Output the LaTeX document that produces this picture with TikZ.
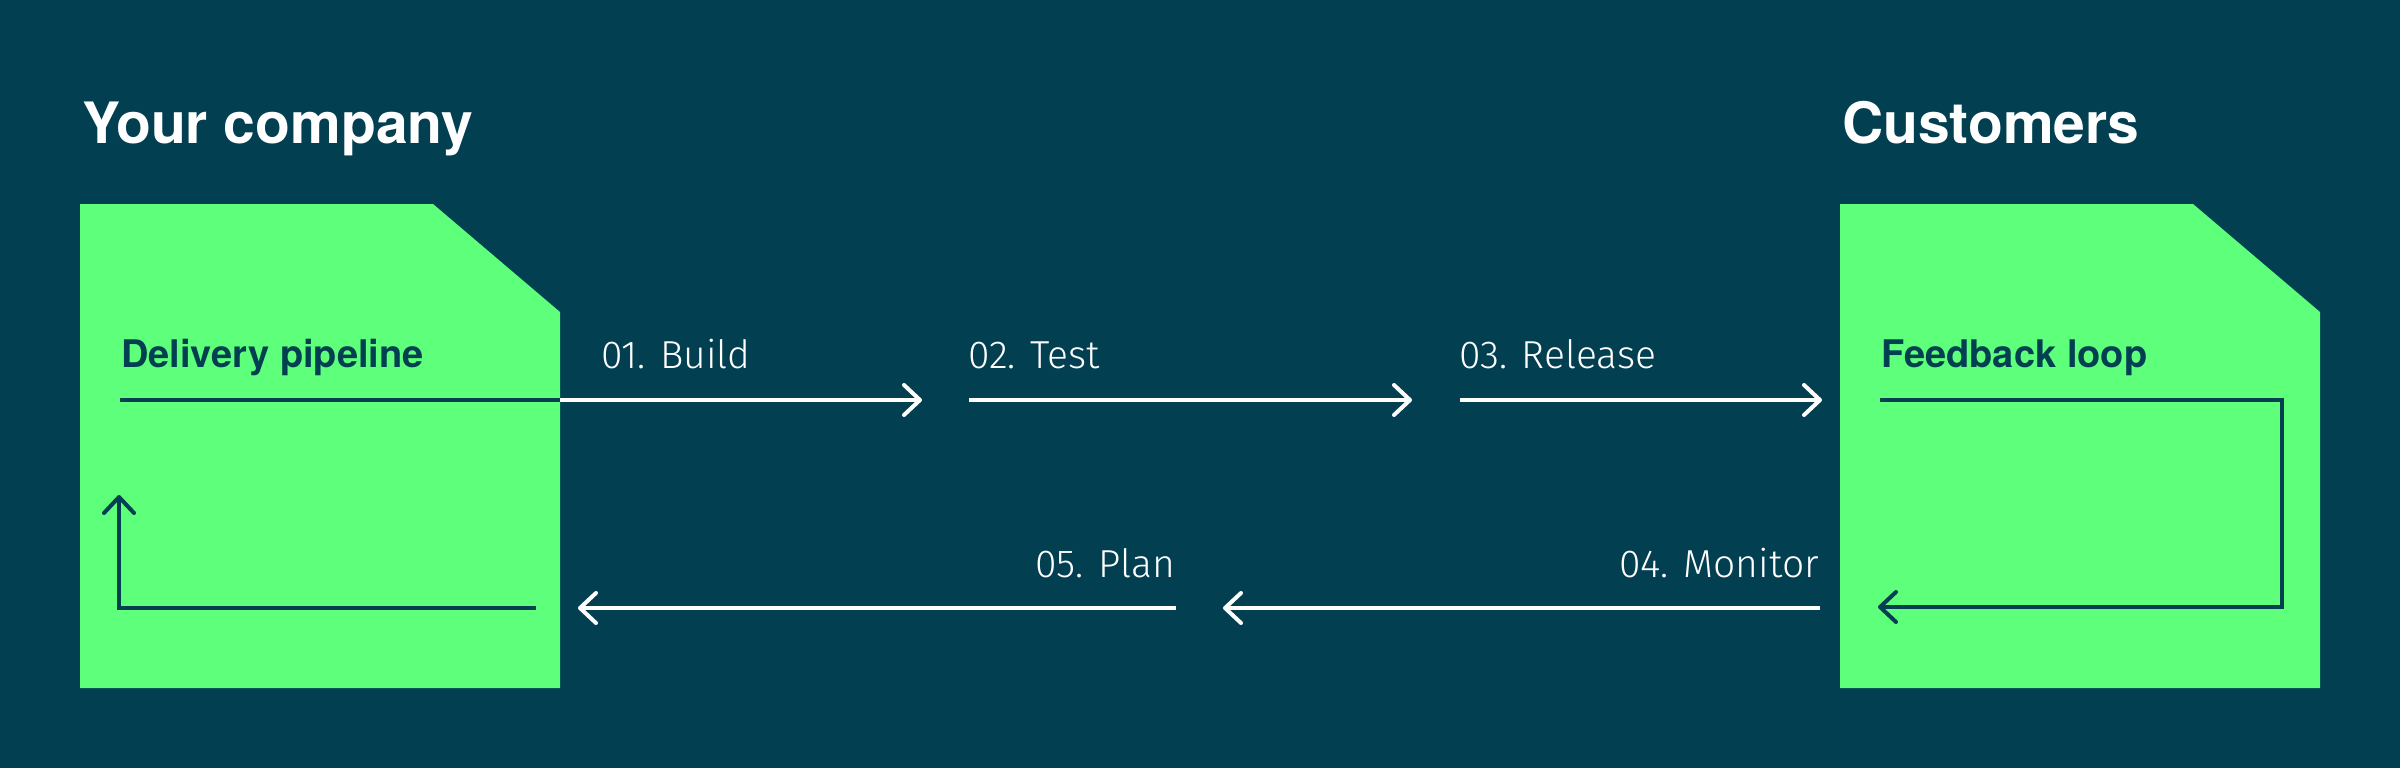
\documentclass[tikz,border=0pt]{standalone}
\usepackage{fontspec}
\setmainfont{TeX Gyre Heros}
\newfontfamily\lightfont{Fira Sans Light}
\usetikzlibrary{arrows.meta}
\definecolor{bg}{HTML}{013F51}
\definecolor{grn}{HTML}{5DFF7B}
\tikzset{
  title/.style={inner sep=0pt, anchor=base west, text=white, font=\fontsize{57}{60}\selectfont\bfseries},
  boxtitle/.style={inner sep=0pt, anchor=base west, text=bg, font=\fontsize{38}{40}\selectfont\bfseries},
  steplabel/.style={inner sep=0pt, text=white, font=\lightfont\fontsize{39}{42}\selectfont},
  barb/.style={-{Straight Barb[length=16pt,width=30pt,round]}},
  wline/.style={draw=white, line width=4pt},
  dline/.style={draw=bg, line width=4pt},
  panel/.style={fill=grn}
}
\begin{document}
\begin{tikzpicture}[x=1pt,y=-1pt]
\fill[bg] (0,0) rectangle (2400,768);
\useasboundingbox (0,0) rectangle (2400,768);
% panels
\path[panel] (80,204) -- (433,204) -- (560,312) -- (560,688) -- (80,688) -- cycle;
\path[panel] (1840,204) -- (2193,204) -- (2320,312) -- (2320,688) -- (1840,688) -- cycle;
% titles
\node[title] (yc) at (82,143) {Your company};
\node[title] (cu) at (1842,143) {Customers};
\node[boxtitle] (dp) at (121,367) {Delivery pipeline};
\node[boxtitle] (fl) at (1881,367) {Feedback loop};
% step labels
\node[steplabel, anchor=base west] (l1) at (601,368) {01. Build};
\node[steplabel, anchor=base west] (l2) at (968,368) {02. Test};
\node[steplabel, anchor=base west] (l3) at (1459,368) {03. Release};
\node[steplabel, anchor=base east] (l4) at (1819,577) {04. Monitor};
\node[steplabel, anchor=base east] (l5) at (1175,577) {05. Plan};
% coordinates
\coordinate (a0) at (120,400);
\coordinate (a1) at (560,400);
\coordinate (a2) at (922,400);
\coordinate (b1) at (969,400);
\coordinate (b2) at (1412,400);
\coordinate (c1) at (1460,400);
\coordinate (c2) at (1822,400);
\coordinate (f0) at (1880,400);
\coordinate (f1) at (2282,400);
\coordinate (f2) at (2282,607);
\coordinate (f3) at (1878,607);
\coordinate (m1) at (1820,608);
\coordinate (m2) at (1223,608);
\coordinate (p1) at (1176,608);
\coordinate (p2) at (578,608);
\coordinate (q0) at (536,608);
\coordinate (q1) at (119,608);
\coordinate (q2) at (119,495);
% connectors
\draw[dline] (a0) -- (a1);
\draw[wline, barb] (a1) -- (a2);
\draw[wline, barb] (b1) -- (b2);
\draw[wline, barb] (c1) -- (c2);
\draw[dline, barb] (f0) -- (f1) -- (f2) -- (f3);
\draw[wline, barb] (m1) -- (m2);
\draw[wline, barb] (p1) -- (p2);
\draw[dline, barb] (q0) -- (q1) -- (q2);
\end{tikzpicture}
\end{document}
